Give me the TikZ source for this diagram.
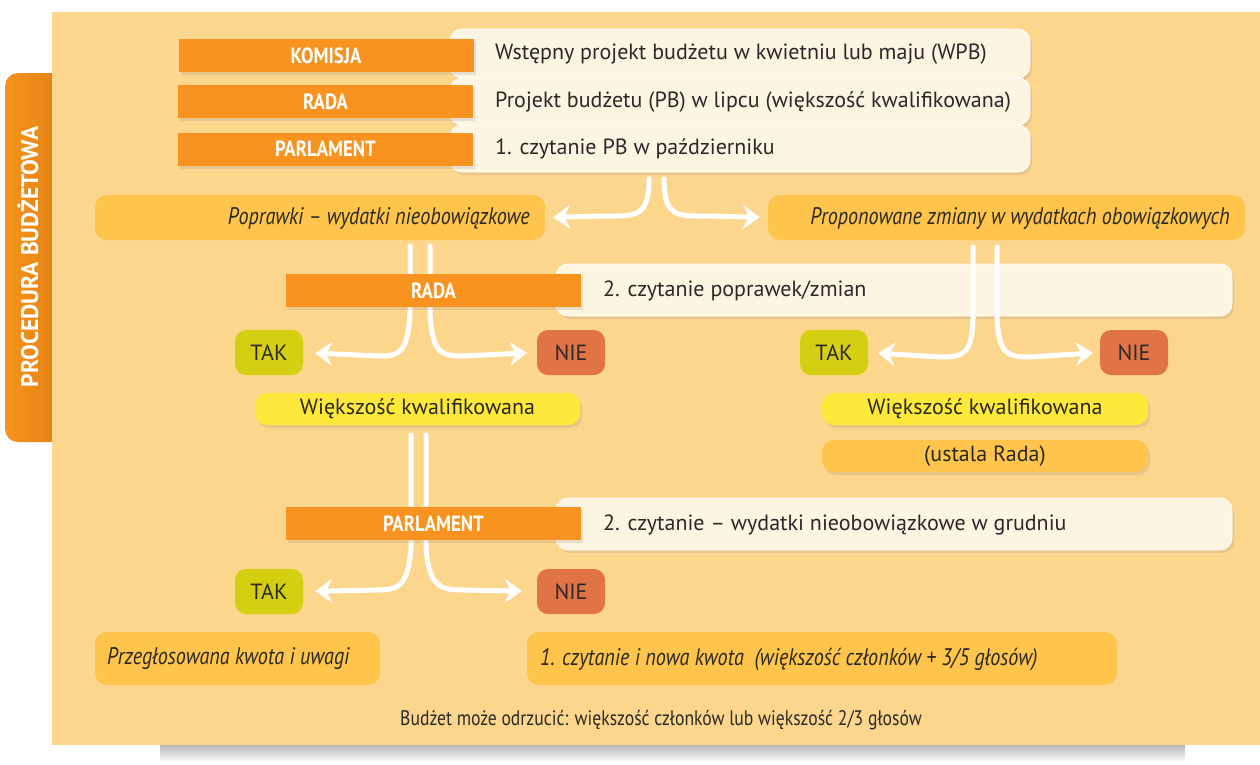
\documentclass[tikz,border=0pt]{standalone}
\usepackage{fontspec}
\setmainfont{PT Sans}
\newfontfamily\condfont[FakeStretch=0.84]{PT Sans}
\newfontfamily\labfont[FakeStretch=0.85]{PT Sans}
\newfontfamily\tabfont[FakeStretch=0.98]{PT Sans}
\usetikzlibrary{arrows.meta,shadows}
\definecolor{panel}{HTML}{FDD68D}
\definecolor{orng}{HTML}{F7931E}
\definecolor{orngdk}{HTML}{DD7E12}
\definecolor{cream}{HTML}{FDF4E2}
\definecolor{gold}{HTML}{FEC44C}
\definecolor{takc}{HTML}{D5CF12}
\definecolor{niec}{HTML}{E17446}
\definecolor{yel}{HTML}{FEE83A}
\definecolor{ink}{HTML}{2A2928}
\tikzset{
  x=1pt,y=-1pt,
  shd/.style={drop shadow={opacity=0.18,shadow xshift=2pt,shadow yshift=-3pt}},
  lab/.style={fill=orng,text=white,inner sep=0pt,font=\labfont\bfseries\fontsize{22}{24}\selectfont,shd},
  creambox/.style={fill=cream,draw=white,line width=0.8pt,rounded corners=12pt,inner sep=0pt,shd},
  goldbox/.style={fill=gold,rounded corners=12pt,inner sep=0pt},
  yn/.style={rounded corners=11pt,inner sep=0pt,minimum width=68pt,minimum height=45pt,text=ink,font=\fontsize{22}{24}\selectfont},
  yelbox/.style={fill=yel,rounded corners=12pt,inner sep=0pt,minimum height=32pt,text=ink,font=\fontsize{22}{24}\selectfont,shd},
  txt/.style={inner sep=0pt,text=ink,font=\fontsize{22}{24}\selectfont},
  itxt/.style={inner sep=0pt,text=ink,font=\condfont\itshape\fontsize{24}{26}\selectfont},
  warr/.style={draw=white,line width=5pt,line cap=round,-{Stealth[length=17pt,width=24pt,inset=6pt]}},
}
\begin{document}
\begin{tikzpicture}
\useasboundingbox (0,0) rectangle (1260,764);
% background, tab and panel
\fill[white] (0,0) rectangle (1260,764);
\shade[top color=black!28,bottom color=white] (160,745) rectangle (1185,762);
\path[left color=orng,right color=orngdk,rounded corners=13pt] (5,73) rectangle (75,442);
\node[rotate=90,text=white,inner sep=0pt,font=\tabfont\bfseries\fontsize{24}{26}\selectfont] (tab) at (28,257) {PROCEDURA BUDŻETOWA};
\path[fill=panel] (52,12) rectangle (1260,745);
% cream boxes
\node[creambox,minimum width=580pt,minimum height=49pt] (c1) at (740,53.5) {};
\node[creambox,minimum width=580pt,minimum height=47pt] (c2) at (740,101.5) {};
\node[creambox,minimum width=580pt,minimum height=47pt] (c3) at (740,148.5) {};
\node[creambox,minimum width=676pt,minimum height=52pt] (c4) at (894,290) {};
\node[creambox,minimum width=676pt,minimum height=52pt] (c5) at (894,524) {};
\node[txt,anchor=west] (t1) at (495,54) {Wstępny projekt budżetu w kwietniu lub maju (WPB)};
\node[txt,anchor=west] (t2) at (495,101.5) {Projekt budżetu (PB) w lipcu (większość kwalifikowana)};
\node[txt,anchor=west] (t3) at (495,148.5) {1. czytanie PB w październiku};
\node[txt,anchor=west] (t4) at (603,290.5) {2. czytanie poprawek/zmian};
\node[txt,anchor=west] (t5) at (603,524.5) {2. czytanie – wydatki nieobowiązkowe w grudniu};
% gold boxes
\node[goldbox,minimum width=450pt,minimum height=45pt] (pop) at (320,217.5) {};
\node[itxt,anchor=east] (popt) at (530,218) {Poprawki – wydatki nieobowiązkowe};
\node[goldbox,minimum width=477pt,minimum height=45pt] (prop) at (1006.5,217.5) {};
\node[itxt,anchor=east] (propt) at (1230,218) {Proponowane zmiany w wydatkach obowiązkowych};
\node[goldbox,minimum width=285pt,minimum height=53pt] (prz) at (237.5,658.5) {};
\node[itxt,anchor=west] (przt) at (107,659) {Przegłosowana kwota i uwagi};
\node[goldbox,minimum width=590pt,minimum height=53pt] (czy) at (822,658.5) {};
\node[itxt,anchor=west] (czyt) at (540,659) {1. czytanie i nowa kwota\ \ (większość członków + 3/5 głosów)};
% TAK / NIE
\node[yn,fill=takc] (tak1) at (269,352.5) {TAK};
\node[yn,fill=niec] (nie1) at (571,352.5) {NIE};
\node[yn,fill=takc] (tak2) at (834,352.5) {TAK};
\node[yn,fill=niec] (nie2) at (1134,352.5) {NIE};
\node[yn,fill=takc] (tak3) at (269,591.5) {TAK};
\node[yn,fill=niec] (nie3) at (571,591.5) {NIE};
% majority boxes
\node[yelbox,minimum width=325pt] (wk1) at (417.5,409) {Większość kwalifikowana};
\node[yelbox,minimum width=326pt] (wk2) at (985,409) {Większość kwalifikowana};
\node[yelbox,fill=gold,minimum width=326pt] (ust) at (985,456) {(ustala Rada)};
% footer
\node[inner sep=0pt,text=ink,font=\condfont\fontsize{21}{24}\selectfont] (foot) at (661,720) {Budżet może odrzucić: większość członków lub większość 2/3 głosów};
% arrows
\coordinate (s1) at (649,179);
\coordinate (s2) at (664,179);
\draw[warr,shorten >=8pt] (s1) .. controls (649,218) and (635,216) .. (605,216) -- (pop.east);
\draw[warr,shorten >=8pt] (s2) .. controls (664,218) and (678,216) .. (708,216) -- (prop.west);
\coordinate (r1) at (410,246);
\coordinate (r2) at (430,246);
\draw[warr,shorten >=12pt] (r1) -- (410,312) .. controls (408,352) and (400,356) .. (380,356) -- (tak1.east);
\draw[warr,shorten >=10pt] (r2) -- (430,312) .. controls (432,352) and (440,356) .. (462,356) -- (nie1.west);
\coordinate (q1) at (973,247);
\coordinate (q2) at (997,247);
\draw[warr,shorten >=10pt] (q1) -- (973,318) .. controls (972,354) and (964,357) .. (940,357) -- (tak2.east);
\draw[warr,shorten >=7pt] (q2) -- (997,318) .. controls (999,354) and (1007,357) .. (1030,357) -- (nie2.west);
\coordinate (p1) at (411,435);
\coordinate (p2) at (426,435);
\draw[warr,shorten >=12pt] (p1) -- (411,548) .. controls (408,586) and (398,590) .. (378,590) -- (tak3.east);
\draw[warr,shorten >=15pt] (p2) -- (426,548) .. controls (429,586) and (440,590) .. (462,590) -- (nie3.west);
% orange labels
\node[lab,minimum width=295pt,minimum height=33pt] (komisja) at (326,55.5) {KOMISJA};
\node[lab,minimum width=295pt,minimum height=33pt] (rada1) at (325.5,101.5) {RADA};
\node[lab,minimum width=295pt,minimum height=33pt] (parl1) at (325.5,149) {PARLAMENT};
\node[lab,minimum width=295pt,minimum height=33pt] (rada2) at (433.5,290.5) {RADA};
\node[lab,minimum width=295pt,minimum height=33pt] (parl2) at (433.5,523.5) {PARLAMENT};
\end{tikzpicture}
\end{document}
